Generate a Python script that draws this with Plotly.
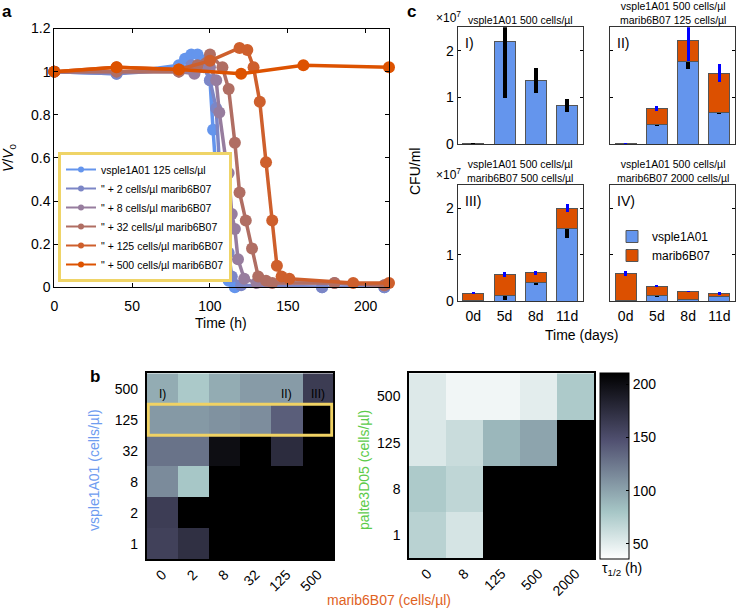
import plotly.graph_objects as go

W, H = 737, 609


def fx(p):
    return p / W


def fy(p):
    return 1 - p / H


FONT = "Liberation Sans, Arial, sans-serif"

# ---------------- panel a : V/V0 vs time ----------------
series_names = [
    "vsple1A01 125 cells/µl",
    "\" + 2 cells/µl marib6B07",
    "\" + 8 cells/µl marib6B07",
    "\" + 32 cells/µl marib6B07",
    "\" + 125 cells/µl marib6B07",
    "\" + 500 cells/µl marib6B07",
]
series_colors = ["#6495ED", "#7C86C6", "#977D9E", "#B06E63", "#CE5F2C", "#DD5200"]

time_m0 = [0, 40, 80, 84, 88, 92, 96, 100, 102, 105, 108, 112, 116, 172, 212]
vv_m0 = [1.00, 0.99, 1.03, 1.06, 1.08, 1.08, 1.05, 0.96, 0.73, 0.41, 0.16, 0.03, 0.00, 0.00, 0.00]
time_m2 = [0, 40, 80, 88, 96, 100, 104, 106, 108, 110, 112, 114, 120, 172, 212]
vv_m2 = [1.00, 0.99, 1.01, 1.03, 1.02, 0.96, 0.83, 0.58, 0.45, 0.34, 0.16, 0.05, 0.01, 0.00, 0.00]
time_m8 = [0, 40, 80, 90, 100, 104, 106, 110, 112, 114, 116, 118, 122, 130, 180, 212]
vv_m8 = [1.00, 1.00, 1.00, 0.99, 1.02, 0.96, 0.81, 0.60, 0.53, 0.34, 0.27, 0.13, 0.04, 0.02, 0.02, 0.01]
time_m32 = [0, 40, 80, 92, 100, 108, 112, 116, 119, 123, 127, 131, 136, 140, 180, 212]
vv_m32 = [1.00, 1.00, 1.00, 1.03, 1.08, 1.02, 0.92, 0.67, 0.44, 0.31, 0.18, 0.05, 0.03, 0.02, 0.02, 0.01]
time_m125 = [0, 40, 80, 100, 119, 124, 128, 132, 136, 140, 143, 146, 151, 192, 215]
vv_m125 = [1.00, 1.02, 1.01, 1.05, 1.11, 1.10, 1.02, 0.86, 0.58, 0.31, 0.10, 0.05, 0.04, 0.02, 0.02]
time_m500 = [0, 40, 80, 120, 160, 215]
vv_m500 = [1.00, 1.02, 1.01, 0.99, 1.03, 1.02]

times = [time_m0, time_m2, time_m8, time_m32, time_m125, time_m500]
values = [vv_m0, vv_m2, vv_m8, vv_m32, vv_m125, vv_m500]

# ---------------- panel c : CFU/ml (x 10^7) ----------------
days = ["0d", "5d", "8d", "11d"]
panel_titles = [
    "vsple1A01 500 cells/µl",
    "vsple1A01 500 cells/µl<br>marib6B07 125 cells/µl",
    "vsple1A01 500 cells/µl<br>marib6B07 500 cells/µl",
    "vsple1A01 500 cells/µl<br>marib6B07 2000 cells/µl",
]
panel_tags = ["I)", "II)", "III)", "IV)"]

vsple_I = [0.02, 2.20, 1.36, 0.83]
vsple_I_err = [0.01, 1.20, 0.27, 0.13]
marib_I = [None, None, None, None]
marib_I_err = [0, 0, 0, 0]

vsple_II = [0.02, 0.42, 1.77, 0.67]
vsple_II_err = [0.01, 0.02, 0.17, 0.03]
marib_II = [0.00, 0.35, 0.45, 0.85]
marib_II_err = [0.005, 0.05, 0.44, 0.19]

vsple_III = [0.01, 0.12, 0.39, 1.56]
vsple_III_err = [0.01, 0.09, 0.055, 0.21]
marib_III = [0.155, 0.45, 0.22, 0.44]
marib_III_err = [0.02, 0.05, 0.045, 0.09]

vsple_IV = [0.005, 0.11, 0.04, 0.09]
vsple_IV_err = [0.003, 0.025, 0.01, 0.01]
marib_IV = [0.585, 0.21, 0.17, 0.075]
marib_IV_err = [0.06, 0.025, 0.01, 0.03]

vsple_all = [vsple_I, vsple_II, vsple_III, vsple_IV]
vsple_err_all = [vsple_I_err, vsple_II_err, vsple_III_err, vsple_IV_err]
marib_all = [marib_I, marib_II, marib_III, marib_IV]
marib_err_all = [marib_I_err, marib_II_err, marib_III_err, marib_IV_err]

# ---------------- panel b : half-life heatmaps ----------------
hm1_x = ["0", "2", "8", "32", "125", "500"]          # marib6B07
hm1_y = ["1", "2", "8", "32", "125", "500"]          # vsple1A01
hm1_z = [
    [160, 173, 215, 215, 215, 215],
    [163, 215, 215, 215, 215, 215],
    [114, 80, 215, 215, 215, 215],
    [128, 128, 200, 215, 176, 215],
    [106, 106, 110, 113, 140, 215],
    [95, 78, 95, 105, 105, 164],
]
hm1_tags = ["I)", "II)", "III)"]
hm1_tag_cols = [0, 4, 5]          # column index of the tagged cells (row "500")
hm2_x = ["0", "8", "125", "500", "2000"]             # marib6B07
hm2_y = ["1", "8", "125", "500"]                     # palte3D05
hm2_z = [
    [71, 57, 215, 215, 215],
    [77, 68, 215, 215, 215],
    [54, 63, 89, 100, 215],
    [53, 43, 43, 50, 77],
]
tau_ticks = [50, 100, 150, 200]

BLUE_BAR = "#6495ED"
ORANGE_BAR = "#DC5000"

fig = go.Figure()

# panel a traces
for i in range(6):
    fig.add_trace(go.Scatter(
        x=times[i], y=values[i], mode="lines+markers",
        line=dict(color=series_colors[i], width=3.5),
        marker=dict(color=series_colors[i], size=12),
        showlegend=False, cliponaxis=False, xaxis="x", yaxis="y",
    ))
for i in range(6):
    fig.add_trace(go.Scatter(
        x=[None], y=[None], mode="lines+markers", name=series_names[i],
        line=dict(color=series_colors[i], width=2),
        marker=dict(color=series_colors[i], size=6),
        showlegend=True, legend="legend", xaxis="x", yaxis="y",
    ))

# panel c traces
for k in range(4):
    xa = "x%d" % (k + 2)
    ya = "y%d" % (k + 2)
    fig.add_trace(go.Bar(
        x=days, y=vsple_all[k], name="vsple1A01", xaxis=xa, yaxis=ya,
        marker=dict(color=BLUE_BAR, line=dict(color="#555555", width=1)),
        error_y=dict(type="data", array=vsple_err_all[k], color="black", thickness=4, width=0),
        showlegend=(k == 3), legend="legend2",
    ))
    fig.add_trace(go.Bar(
        x=days, y=marib_all[k], name="marib6B07", xaxis=xa, yaxis=ya,
        marker=dict(color=ORANGE_BAR, line=dict(color="#555555", width=1)),
        error_y=dict(type="data", array=marib_err_all[k], color="#0000FF", thickness=3, width=0),
        showlegend=(k == 3), legend="legend2",
    ))

# panel b heatmaps
fig.add_trace(go.Heatmap(x=hm1_x, y=hm1_y, z=hm1_z, coloraxis="coloraxis",
                         xaxis="x6", yaxis="y6"))
fig.add_trace(go.Heatmap(x=hm2_x, y=hm2_y, z=hm2_z, coloraxis="coloraxis",
                         xaxis="x7", yaxis="y7"))

base_ax = dict(showline=True, linecolor="black", linewidth=1, mirror=True,
               showgrid=False, zeroline=False, tickcolor="black", automargin=False,
               tickfont=dict(size=14, color="black"))

lay = dict(
    xaxis=dict(base_ax, domain=[fx(54.3), fx(389)], anchor="y", range=[0, 215],
               tickvals=[0, 50, 100, 150, 200], ticks="inside", ticklen=4,
               mirror="ticks", ticklabelstandoff=6),
    yaxis=dict(base_ax, domain=[fy(287.3), fy(28.5)], anchor="x", range=[0, 1.2],
               tickvals=[0, 0.2, 0.4, 0.6, 0.8, 1.0, 1.2],
               ticktext=["0", "0.2", "0.4", "0.6", "0.8", "1", "1.2"],
               ticks="inside", ticklen=4, mirror="ticks"),
)

c_x = [(457.7, 582.7), (610, 735), (457.7, 582.7), (610, 735)]
c_y = [(27.3, 144.3), (27.3, 144.3), (185, 301), (185, 301)]
for k in range(4):
    n = k + 2
    lay["xaxis%d" % n] = dict(
        base_ax, domain=[fx(c_x[k][0]), fx(c_x[k][1])], anchor="y%d" % n,
        type="category", categoryorder="array", categoryarray=days,
        range=[-0.5, 3.5], ticks="", showticklabels=(k >= 2),
        linecolor="#333333", ticklabelstandoff=2,
    )
    lay["yaxis%d" % n] = dict(
        base_ax, domain=[fy(c_y[k][1]), fy(c_y[k][0])], anchor="x%d" % n,
        range=[0, 2.5], tickvals=[0, 1, 2], ticktext=["0", "1", "2"],
        ticks="inside", ticklen=3, mirror="ticks",
        showticklabels=(k % 2 == 0), linecolor="#333333",
    )

lay["xaxis6"] = dict(base_ax, domain=[fx(146.7), fx(333.3)], anchor="y6",
                     type="category", categoryorder="array", categoryarray=hm1_x,
                     range=[-0.5, 5.5], ticks="", tickangle=-45, linewidth=1.5)
lay["yaxis6"] = dict(base_ax, domain=[fy(559.3), fy(373.3)], anchor="x6",
                     type="category", categoryorder="array", categoryarray=hm1_y,
                     range=[-0.5, 5.5], ticks="", linewidth=1.5, ticklabelstandoff=4)
lay["xaxis7"] = dict(base_ax, domain=[fx(409), fx(594)], anchor="y7",
                     type="category", categoryorder="array", categoryarray=hm2_x,
                     range=[-0.5, 4.5], ticks="", tickangle=-45, linewidth=1.5)
lay["yaxis7"] = dict(base_ax, domain=[fy(558.3), fy(373.3)], anchor="x7",
                     type="category", categoryorder="array", categoryarray=hm2_y,
                     range=[-0.5, 3.5], ticks="", linewidth=1.5, ticklabelstandoff=4)

fig.update_layout(**lay)

fig.update_layout(
    width=W, height=H,
    margin=dict(l=0, r=0, t=0, b=0, autoexpand=False),
    paper_bgcolor="white", plot_bgcolor="white",
    font=dict(family=FONT, size=14, color="black"),
    barmode="stack", bargap=0.33,
    coloraxis=dict(
        colorscale=[[0, "rgb(255,255,255)"], [0.254, "rgb(166,198,198)"],
                    [0.635, "rgb(81,81,113)"], [1, "rgb(0,0,0)"]],
        cmin=36, cmax=211,
        colorbar=dict(x=fx(600), xanchor="left", y=fy(372.7), yanchor="top",
                      len=(558.3 - 372.7) / H, lenmode="fraction",
                      thickness=29, thicknessmode="pixels", xpad=0, ypad=0,
                      outlinecolor="black", outlinewidth=1,
                      tickvals=tau_ticks, ticks="inside", ticklen=3,
                      tickcolor="black", tickfont=dict(size=14)),
    ),
    legend=dict(x=fx(58), y=fy(282), xanchor="left", yanchor="bottom",
                bordercolor="#EFD467", borderwidth=3, bgcolor="white",
                font=dict(size=10.5), itemwidth=30, tracegroupgap=0),
    legend2=dict(x=fx(612), y=fy(222), xanchor="left", yanchor="top",
                 bgcolor="rgba(0,0,0,0)", font=dict(size=12), itemwidth=30,
                 traceorder="normal"),
)

ann = []
ann.append(dict(text="<b>a</b>", x=fx(0), y=fy(0), xanchor="left", yanchor="top", font=dict(size=17)))
ann.append(dict(text="<b>c</b>", x=fx(405), y=fy(0), xanchor="left", yanchor="top", font=dict(size=17)))
ann.append(dict(text="<b>b</b>", x=fx(88), y=fy(365), xanchor="left", yanchor="top", font=dict(size=17)))
ann.append(dict(text="<i>V</i>/<i>V</i><sub>0</sub>", x=fx(9), y=fy(158), textangle=-90,
                xanchor="center", yanchor="middle", font=dict(size=14)))
ann.append(dict(text="Time (h)", x=fx(221), y=fy(323), xanchor="center", yanchor="middle"))
for k in range(4):
    cx = (c_x[k][0] + c_x[k][1]) / 2
    ann.append(dict(text=panel_titles[k], x=fx(cx), y=fy(c_y[k][0] - 0.5),
                    xanchor="center", yanchor="bottom", borderpad=0,
                    font=dict(size=10.5)))
    ann.append(dict(text=panel_tags[k], x=fx(c_x[k][0] + 5), y=fy(c_y[k][0] + 16),
                    xanchor="left", yanchor="middle", font=dict(size=14)))
ann.append(dict(text="×10<sup>7</sup>", x=fx(463), y=fy(27), xanchor="right", yanchor="bottom", font=dict(size=12)))
ann.append(dict(text="×10<sup>7</sup>", x=fx(463), y=fy(184), xanchor="right", yanchor="bottom", font=dict(size=12)))
ann.append(dict(text="CFU/ml", x=fx(415), y=fy(172), textangle=-90, xanchor="center", yanchor="middle"))
ann.append(dict(text="Time (days)", x=fx(581), y=fy(335), xanchor="center", yanchor="middle"))
ann.append(dict(text="vsple1A01 (cells/µl)", x=fx(94), y=fy(470), textangle=-90,
                xanchor="center", yanchor="middle", font=dict(color="#6E9CF0")))
ann.append(dict(text="palte3D05 (cells/µl)", x=fx(364), y=fy(470), textangle=-90,
                xanchor="center", yanchor="middle", font=dict(color="#5CCB4A")))
ann.append(dict(text="marib6B07 (cells/µl)", x=fx(389), y=fy(600), xanchor="center",
                yanchor="middle", font=dict(color="#E0621E")))
ann.append(dict(text="τ<sub>1/2</sub> (h)", x=fx(600), y=fy(569), xanchor="left", yanchor="middle"))
for txt, ci in zip(hm1_tags, hm1_tag_cols):
    ann.append(dict(text=txt, x=ci, y=len(hm1_y) - 1, xref="x6", yref="y6",
                    yshift=-5, font=dict(size=12)))

for a in ann:
    a.setdefault("xref", "paper")
    a.setdefault("yref", "paper")
    a["showarrow"] = False
fig.update_layout(annotations=ann)

fig.add_shape(type="rect", xref="x6", yref="y6", x0=-0.45, x1=5.45, y0=3.5, y1=4.5,
              line=dict(color="#F0D264", width=3))

fig.write_html(
    "out.html",
    config={"displayModeBar": False},
    post_script="document.body.style.margin='0';document.body.style.overflow='hidden';"
                "document.documentElement.style.overflow='hidden';",
)
